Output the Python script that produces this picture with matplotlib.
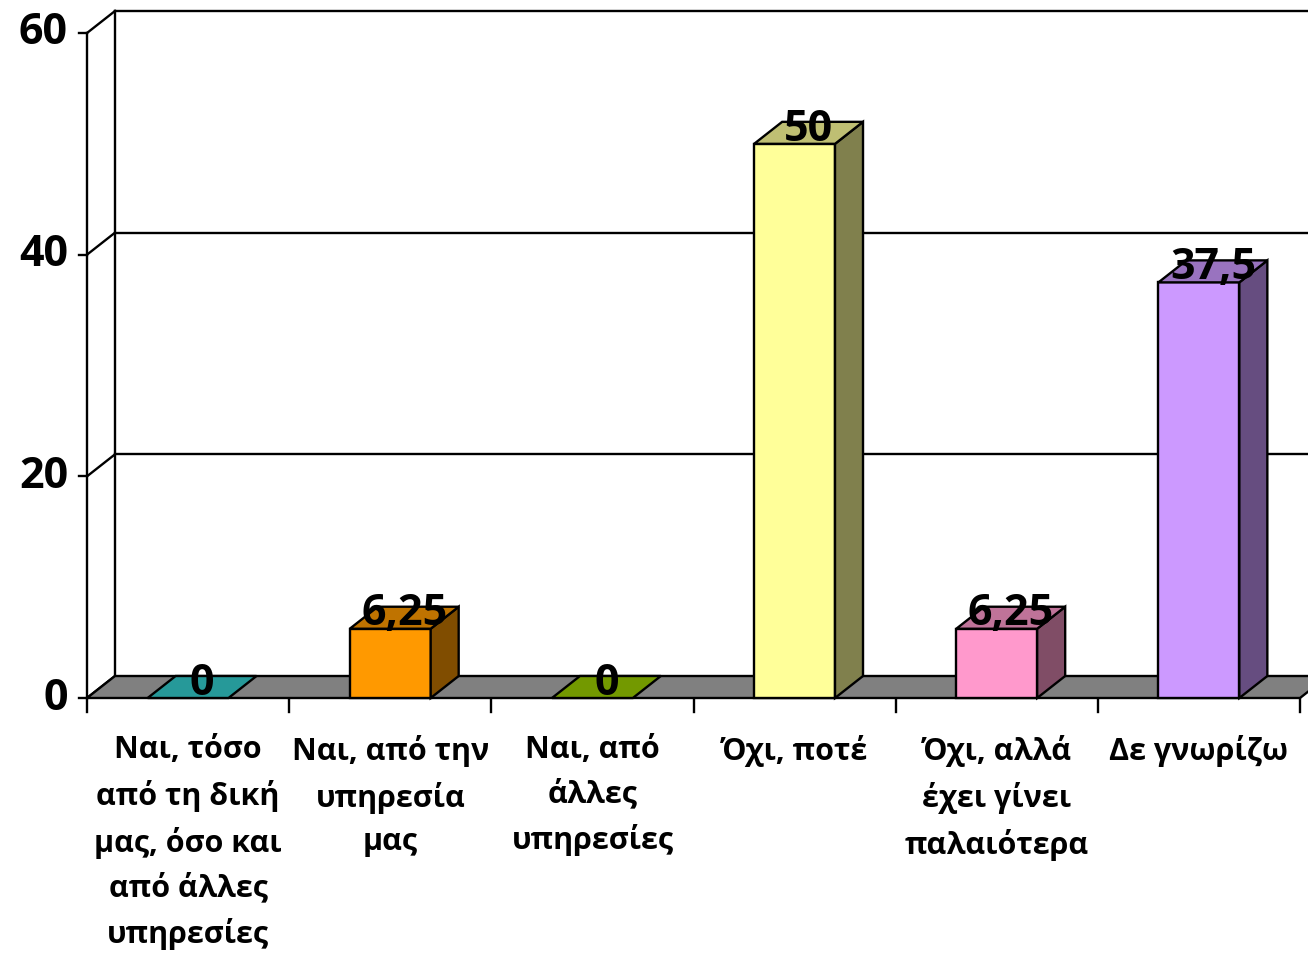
import matplotlib
matplotlib.use("Agg")
import matplotlib.pyplot as plt
from matplotlib.colors import to_rgb
from matplotlib.patches import Polygon

plt.rcParams["font.family"] = ["Open Sans", "DejaVu Sans"]

CATEGORIES = [
    "Ναι, τόσο\nαπό τη δική\nμας, όσο και\nαπό άλλες\nυπηρεσίες",
    "Ναι, από την\nυπηρεσία\nμας",
    "Ναι, από\nάλλες\nυπηρεσίες",
    "Όχι, ποτέ",
    "Όχι, αλλά\nέχει γίνει\nπαλαιότερα",
    "Δε γνωρίζω",
]
VALUES = [0, 6.25, 0, 50, 6.25, 37.5]
VALUE_LABELS = ["0", "6,25", "0", "50", "6,25", "37,5"]
COLORS = ["#33CCCC", "#FF9900", "#99CC00", "#FFFF99", "#FF99CC", "#CC99FF"]
Y_TICKS = [0, 20, 40, 60]

# pseudo 3D depth (in data units) and bar width
DX, DY = 0.1385, 1.985
WIDTH = 0.4
LW = 1.7
N = len(VALUES)


def shade(color, f):
    return tuple(v * f for v in to_rgb(color))


fig = plt.figure(figsize=(13.08, 9.56), dpi=100)
ax = fig.add_axes([87 / 1308, 258 / 956, 1213 / 1308, 665 / 956])
ax.set_xlim(0, N)
ax.set_ylim(0, 60)
ax.axis("off")

# walls: verticals, side-wall diagonals, back-wall gridlines
ax.plot([0, 0], [0, 60], color="k", lw=LW, clip_on=False, zorder=1)
ax.plot([DX, DX], [DY, 60 + DY], color="k", lw=LW, clip_on=False, zorder=1)
for t in Y_TICKS:
    ax.plot([0, DX], [t, t + DY], color="k", lw=LW, clip_on=False, zorder=1)
    if t > 0:
        ax.plot([DX, N + DX], [t + DY, t + DY], color="k", lw=LW, clip_on=False, zorder=1)
    ax.plot([-0.04, 0], [t, t], color="k", lw=LW, clip_on=False, zorder=1)
    ax.text(-0.094, t, str(t), ha="right", va="center", fontsize=31,
            fontweight="bold", clip_on=False)

# floor
floor = Polygon([(0, 0), (N, 0), (N + DX, DY), (DX, DY)], closed=True,
                facecolor="#808080", edgecolor="k", lw=LW, clip_on=False, zorder=2)
ax.add_patch(floor)

# category ticks
for i in range(N + 1):
    ax.plot([i, i], [0, -1.26], color="k", lw=LW, clip_on=False, zorder=1)

# bars
for i, (v, c) in enumerate(zip(VALUES, COLORS)):
    xc = i + 0.5
    l, r = xc - WIDTH / 2, xc + WIDTH / 2
    if v > 0:
        ax.bar(xc, v, width=WIDTH, color=c, edgecolor="k", lw=LW,
               clip_on=False, zorder=3)
        side = Polygon([(r, 0), (r + DX, DY), (r + DX, v + DY), (r, v)], closed=True,
                       facecolor=shade(c, 0.5), edgecolor="k", lw=LW,
                       clip_on=False, zorder=3)
        ax.add_patch(side)
    top = Polygon([(l, v), (r, v), (r + DX, v + DY), (l + DX, v + DY)], closed=True,
                  facecolor=shade(c, 0.75), edgecolor="k", lw=LW,
                  clip_on=False, zorder=3)
    ax.add_patch(top)

# value labels
for i, (v, lab) in enumerate(zip(VALUES, VALUE_LABELS)):
    ax.text(i + 0.5 + DX / 2, v + DY / 2 - 0.7, lab, ha="center", va="baseline",
            fontsize=31, fontweight="bold", zorder=5, clip_on=False)

# category labels
for i, cat in enumerate(CATEGORIES):
    ax.text(i + 0.5, -3.3, cat, ha="center", va="top", fontsize=22,
            fontweight="bold", linespacing=1.6, clip_on=False)

fig.savefig("out.png", dpi=100)
